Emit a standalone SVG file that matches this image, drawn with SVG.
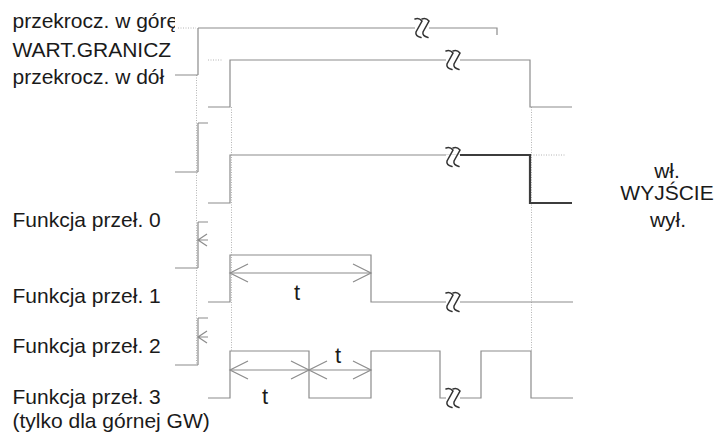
<svg xmlns="http://www.w3.org/2000/svg" xmlns:xlink="http://www.w3.org/1999/xlink" width="726" height="439" viewBox="0 0 726 439">
<style>
.sig{stroke:#8c8c8c;stroke-width:1.2;fill:none}
.dot{stroke:#b4b4b4;stroke-width:1;stroke-dasharray:1 1.5;fill:none}
.bold{stroke:#3c3c3c;stroke-width:2.2;fill:none}
.dim{stroke:#8c8c8c;stroke-width:1.2;fill:none}
.lbl{font-family:"Liberation Sans",Arial,sans-serif;font-size:21px;fill:#1a1a1a}
.t{font-family:"Liberation Sans",Arial,sans-serif;font-size:22px;fill:#1a1a1a;text-anchor:middle}
.mid{text-anchor:middle}
.zz{stroke:#333;stroke-width:1.5;fill:none;stroke-linecap:round}
</style>
<defs>
<clipPath id="clipL"><rect x="0" y="0" width="175" height="439"/></clipPath>
<marker id="arr" markerUnits="userSpaceOnUse" viewBox="-20 -11 22 22" markerWidth="22" markerHeight="22" refX="0" refY="0" orient="auto-start-reverse">
<path d="M-18,-9 L0,0 L-18,9" class="dim"/>
</marker>
<g id="brk">
<rect x="-7" y="-2.5" width="14" height="5" fill="#fff"/>
<path class="zz" d="M-7,-9 Q-3,-10.5 0,-7 L-6,4 Q-7,8 -1,9.5"/>
<path class="zz" d="M0,-9 Q4,-10.5 7,-7 L1,4 Q0,8 6,9.5"/>
</g>
</defs>
<rect width="726" height="439" fill="#fff"/>

<g id="labels">
<g clip-path="url(#clipL)">
<text class="lbl" x="12.5" y="28">przekrocz. w górę</text>
<text class="lbl" x="12.5" y="57">WART.GRANICZ</text>
</g>
<text class="lbl" x="12.5" y="84">przekrocz. w dół</text>
<text class="lbl" x="12.5" y="227">Funkcja przeł. 0</text>
<text class="lbl" x="12.5" y="303">Funkcja przeł. 1</text>
<text class="lbl" x="12.5" y="353">Funkcja przeł. 2</text>
<text class="lbl" x="12.5" y="404">Funkcja przeł. 3</text>
<text class="lbl" x="12.5" y="428">(tylko dla górnej GW)</text>
<text class="lbl mid" x="667" y="178">wł.</text>
<text class="lbl mid" x="667" y="200">WYJŚCIE</text>
<text class="lbl mid" x="668" y="227">wył.</text>
</g>

<g id="guides">
<path class="dot" d="M178,28 H196 M208,60 H222 M531,155 H565"/>
<path class="dot" d="M196.5,75 V365 M231.5,107 V351 M531.5,107 V351"/>
</g>

<g id="column1">
<path class="sig" d="M198,28 V75 M198,123 V172 M198,222 V268 M198,318 V365"/>
<path class="sig" d="M198,28 H497 V35"/>
<path class="sig" d="M175,75 H198 M198,123 H208 M175,172 H198 M198,222 H208 M175,268 H198 M198,318 H208 M175,365 H198"/>
<path class="dim" d="M208,240 H198 M207,234 L198,240 L207,246 M208,337 H198 M207,331 L198,337 L207,343"/>
</g>

<g id="limit">
<path class="sig" d="M208,107 H230 V60 H530 V107 H572"/>
</g>

<g id="output">
<path class="sig" d="M208,203 H230 V155 H462"/>
<path class="bold" d="M460,155 H530 V203 H572"/>
</g>

<g id="func1">
<path class="sig" d="M208,302 H230 V255 H371 V302 H573"/>
<line class="dim" x1="230" y1="273" x2="371" y2="273" marker-start="url(#arr)" marker-end="url(#arr)"/>
<text class="t" x="297" y="300">t</text>
</g>

<g id="func3">
<path class="sig" d="M208,398 H230 V351 H309 V398 H371 V351 H440 V398 H481 V351 H531 V398 H573"/>
<line class="dim" x1="230" y1="370" x2="309" y2="370" marker-start="url(#arr)" marker-end="url(#arr)"/>
<line class="dim" x1="309" y1="370" x2="371" y2="370" marker-start="url(#arr)" marker-end="url(#arr)"/>
<text class="t" x="265" y="404">t</text>
<text class="t" x="338" y="363">t</text>
</g>

<g id="breaks">
<use xlink:href="#brk" href="#brk" x="422" y="28"/>
<use xlink:href="#brk" href="#brk" x="453" y="60"/>
<use xlink:href="#brk" href="#brk" x="453" y="157"/>
<use xlink:href="#brk" href="#brk" x="453" y="302"/>
<use xlink:href="#brk" href="#brk" x="453" y="398"/>
</g>
</svg>
